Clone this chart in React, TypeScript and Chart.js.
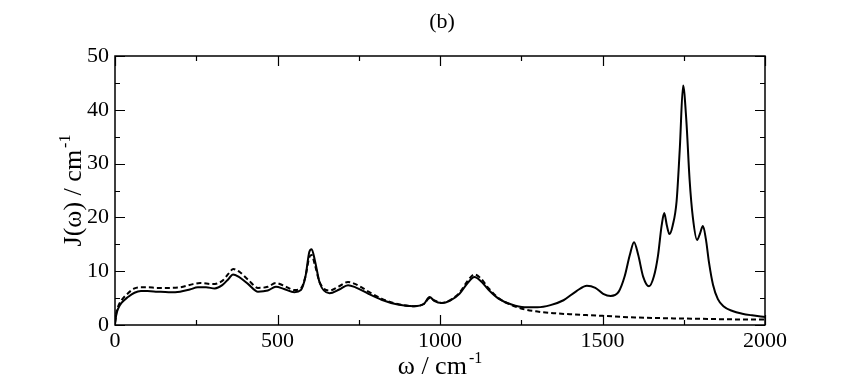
import React, { useEffect, useRef } from "react";
import { Chart, registerables } from "chart.js";

Chart.register(...registerables);

const TITLE = "(b)";
const X_TITLE = "ω / cm";
const Y_TITLE = "J(ω) / cm";
const SUP = "-1";

const OMEGA_SOLID = [0, 5, 10, 20, 40, 60, 80, 100, 130, 165, 200, 230, 255, 280, 307, 330, 350, 363, 380, 410, 440, 470, 495, 520, 552, 572, 586, 598, 605, 615, 630, 660, 690, 717, 740, 780, 820, 870, 920, 950, 968, 982, 1005, 1030, 1060, 1085, 1106, 1125, 1150, 1180, 1220, 1260, 1300, 1340, 1380, 1420, 1452, 1478, 1502, 1525, 1550, 1568, 1584, 1597, 1610, 1625, 1643, 1658, 1671, 1682, 1690, 1698, 1706, 1716, 1728, 1738, 1748, 1758, 1768, 1778, 1791, 1800, 1809, 1818, 1828, 1840, 1855, 1872, 1900, 1930, 1960, 2000];
const J_SOLID = [0.3, 2.2, 3.1, 4.1, 5.2, 6.0, 6.3, 6.3, 6.2, 6.1, 6.2, 6.6, 7.0, 7.0, 6.8, 7.4, 8.6, 9.4, 9.0, 7.6, 6.2, 6.4, 7.1, 6.7, 6.1, 6.5, 9.0, 13.6, 14.1, 12.0, 7.8, 5.9, 6.6, 7.4, 7.0, 5.8, 4.7, 3.8, 3.5, 3.9, 5.2, 4.5, 4.1, 4.5, 5.8, 7.8, 8.9, 8.2, 6.5, 4.9, 3.8, 3.3, 3.3, 3.7, 4.6, 6.3, 7.3, 6.9, 5.8, 5.4, 6.2, 9.0, 13.0, 15.4, 13.0, 9.0, 7.2, 9.0, 13.0, 18.5, 20.8, 18.5, 16.9, 18.5, 23.0, 33.0, 44.5, 38.0, 27.0, 20.0, 15.8, 17.0, 18.4, 16.0, 11.5, 7.5, 4.8, 3.5, 2.6, 2.1, 1.8, 1.5];

const OMEGA_DASH = [0, 5, 10, 20, 40, 60, 80, 100, 130, 165, 200, 240, 262, 300, 330, 350, 364, 380, 410, 440, 470, 495, 520, 552, 572, 586, 598, 605, 615, 630, 660, 690, 717, 740, 780, 820, 870, 920, 950, 968, 982, 1005, 1030, 1060, 1085, 1106, 1125, 1150, 1180, 1220, 1260, 1300, 1350, 1400, 1450, 1500, 1600, 1700, 1800, 1900, 2000];
const J_DASH = [0.4, 2.5, 3.5, 4.6, 5.9, 6.8, 7.0, 7.0, 6.9, 6.9, 7.0, 7.6, 7.8, 7.6, 8.2, 9.6, 10.4, 10.0, 8.4, 6.9, 7.1, 7.8, 7.3, 6.5, 6.8, 9.0, 12.6, 13.0, 11.2, 7.9, 6.4, 7.2, 8.0, 7.6, 6.2, 4.9, 3.9, 3.5, 3.9, 5.0, 4.6, 4.1, 4.6, 6.0, 8.2, 9.4, 8.7, 6.8, 5.0, 3.7, 2.9, 2.5, 2.2, 2.0, 1.85, 1.7, 1.4, 1.25, 1.15, 1.05, 1.0];

const X_MIN = 0;
const X_MAX = 2000;
const X_MAJOR = 500;
const X_MINOR = 250;
const Y_MIN = 0;
const Y_MAX = 50;
const Y_MAJOR = 10;
const Y_MINOR = 5;

const SERIF = '"Liberation Serif", "Times New Roman", serif';

function drawSupText(ctx: CanvasRenderingContext2D, main: string, sup: string, cx: number, cy: number) {
  ctx.font = `26px ${SERIF}`;
  const w1 = ctx.measureText(main).width;
  ctx.font = `16px ${SERIF}`;
  const w2 = ctx.measureText(sup).width;
  const start = cx - (w1 + w2 + 2) / 2;
  ctx.textAlign = "left";
  ctx.textBaseline = "alphabetic";
  ctx.font = `26px ${SERIF}`;
  ctx.fillText(main, start, cy);
  ctx.font = `16px ${SERIF}`;
  ctx.fillText(sup, start + w1 + 2, cy - 11);
}

const framePlugin = {
  id: "frame",
  afterDraw(chart: any) {
    const { ctx, chartArea, scales } = chart;
    const { left, right, top, bottom } = chartArea;
    const xs = scales.x;
    const ys = scales.y;
    ctx.save();
    ctx.strokeStyle = "#000";
    ctx.fillStyle = "#000";
    ctx.lineWidth = 1.5;
    ctx.strokeRect(left, top, right - left, bottom - top);
    ctx.lineWidth = 1.2;
    ctx.beginPath();
    for (let v = X_MIN; v <= X_MAX; v += X_MINOR) {
      const px = Math.round(xs.getPixelForValue(v)) + 0.5;
      const len = v % X_MAJOR === 0 ? 10 : 5;
      ctx.moveTo(px, bottom);
      ctx.lineTo(px, bottom - len);
      ctx.moveTo(px, top);
      ctx.lineTo(px, top + len);
    }
    for (let v = Y_MIN; v <= Y_MAX; v += Y_MINOR) {
      const py = Math.round(ys.getPixelForValue(v)) + 0.5;
      const len = v % Y_MAJOR === 0 ? 10 : 5;
      ctx.moveTo(left, py);
      ctx.lineTo(left + len, py);
      ctx.moveTo(right, py);
      ctx.lineTo(right - len, py);
    }
    ctx.stroke();

    // title
    ctx.font = `22px ${SERIF}`;
    ctx.textAlign = "center";
    ctx.textBaseline = "middle";
    ctx.fillText(TITLE, (left + right) / 2 + 2, 22);

    // x title
    drawSupText(ctx, X_TITLE, SUP, (left + right) / 2, 374);

    // y title
    ctx.translate(81, (top + bottom) / 2);
    ctx.rotate(-Math.PI / 2);
    drawSupText(ctx, Y_TITLE, SUP, 0, 0);
    ctx.restore();
  },
};

export default function App() {
  const ref = useRef<HTMLCanvasElement | null>(null);

  useEffect(() => {
    document.body.style.margin = "0";
    const canvas = ref.current;
    if (!canvas) return;
    const chart = new Chart(canvas, {
      type: "line",
      data: {
        datasets: [
          {
            label: "solid",
            data: OMEGA_SOLID.map((x, i) => ({ x, y: J_SOLID[i] })),
            borderColor: "#000",
            borderWidth: 2,
            pointRadius: 0,
            cubicInterpolationMode: "monotone",
            fill: false,
          },
          {
            label: "dashed",
            data: OMEGA_DASH.map((x, i) => ({ x, y: J_DASH[i] })),
            borderColor: "#000",
            borderWidth: 2,
            borderDash: [5, 3],
            pointRadius: 0,
            cubicInterpolationMode: "monotone",
            fill: false,
          },
        ],
      },
      options: {
        responsive: false,
        animation: false,
        layout: { padding: { left: 0, top: 56, right: 76, bottom: 0 } },
        plugins: { legend: { display: false }, tooltip: { enabled: false }, title: { display: false } },
        scales: {
          x: {
            type: "linear",
            min: X_MIN,
            max: X_MAX,
            grid: { display: false, drawTicks: false },
            border: { display: false },
            ticks: {
              stepSize: X_MAJOR,
              color: "#000",
              padding: 3,
              font: { family: SERIF, size: 22 },
              maxRotation: 0,
              callback: (v: any) => String(v),
            },
            afterFit(scale: any) {
              scale.height = 57;
            },
          },
          y: {
            type: "linear",
            min: Y_MIN,
            max: Y_MAX,
            grid: { display: false, drawTicks: false },
            border: { display: false },
            ticks: {
              stepSize: Y_MAJOR,
              color: "#000",
              padding: 6,
              font: { family: SERIF, size: 22 },
              callback: (v: any) => String(v),
            },
            afterFit(scale: any) {
              scale.width = 115;
            },
          },
        },
      } as any,
      plugins: [framePlugin],
    });
    return () => chart.destroy();
  }, []);

  return (
    <div style={{ position: "relative", width: 841, height: 382 }}>
      <canvas ref={ref} width={841} height={382} style={{ display: "block", width: 841, height: 382 }} />
    </div>
  );
}
